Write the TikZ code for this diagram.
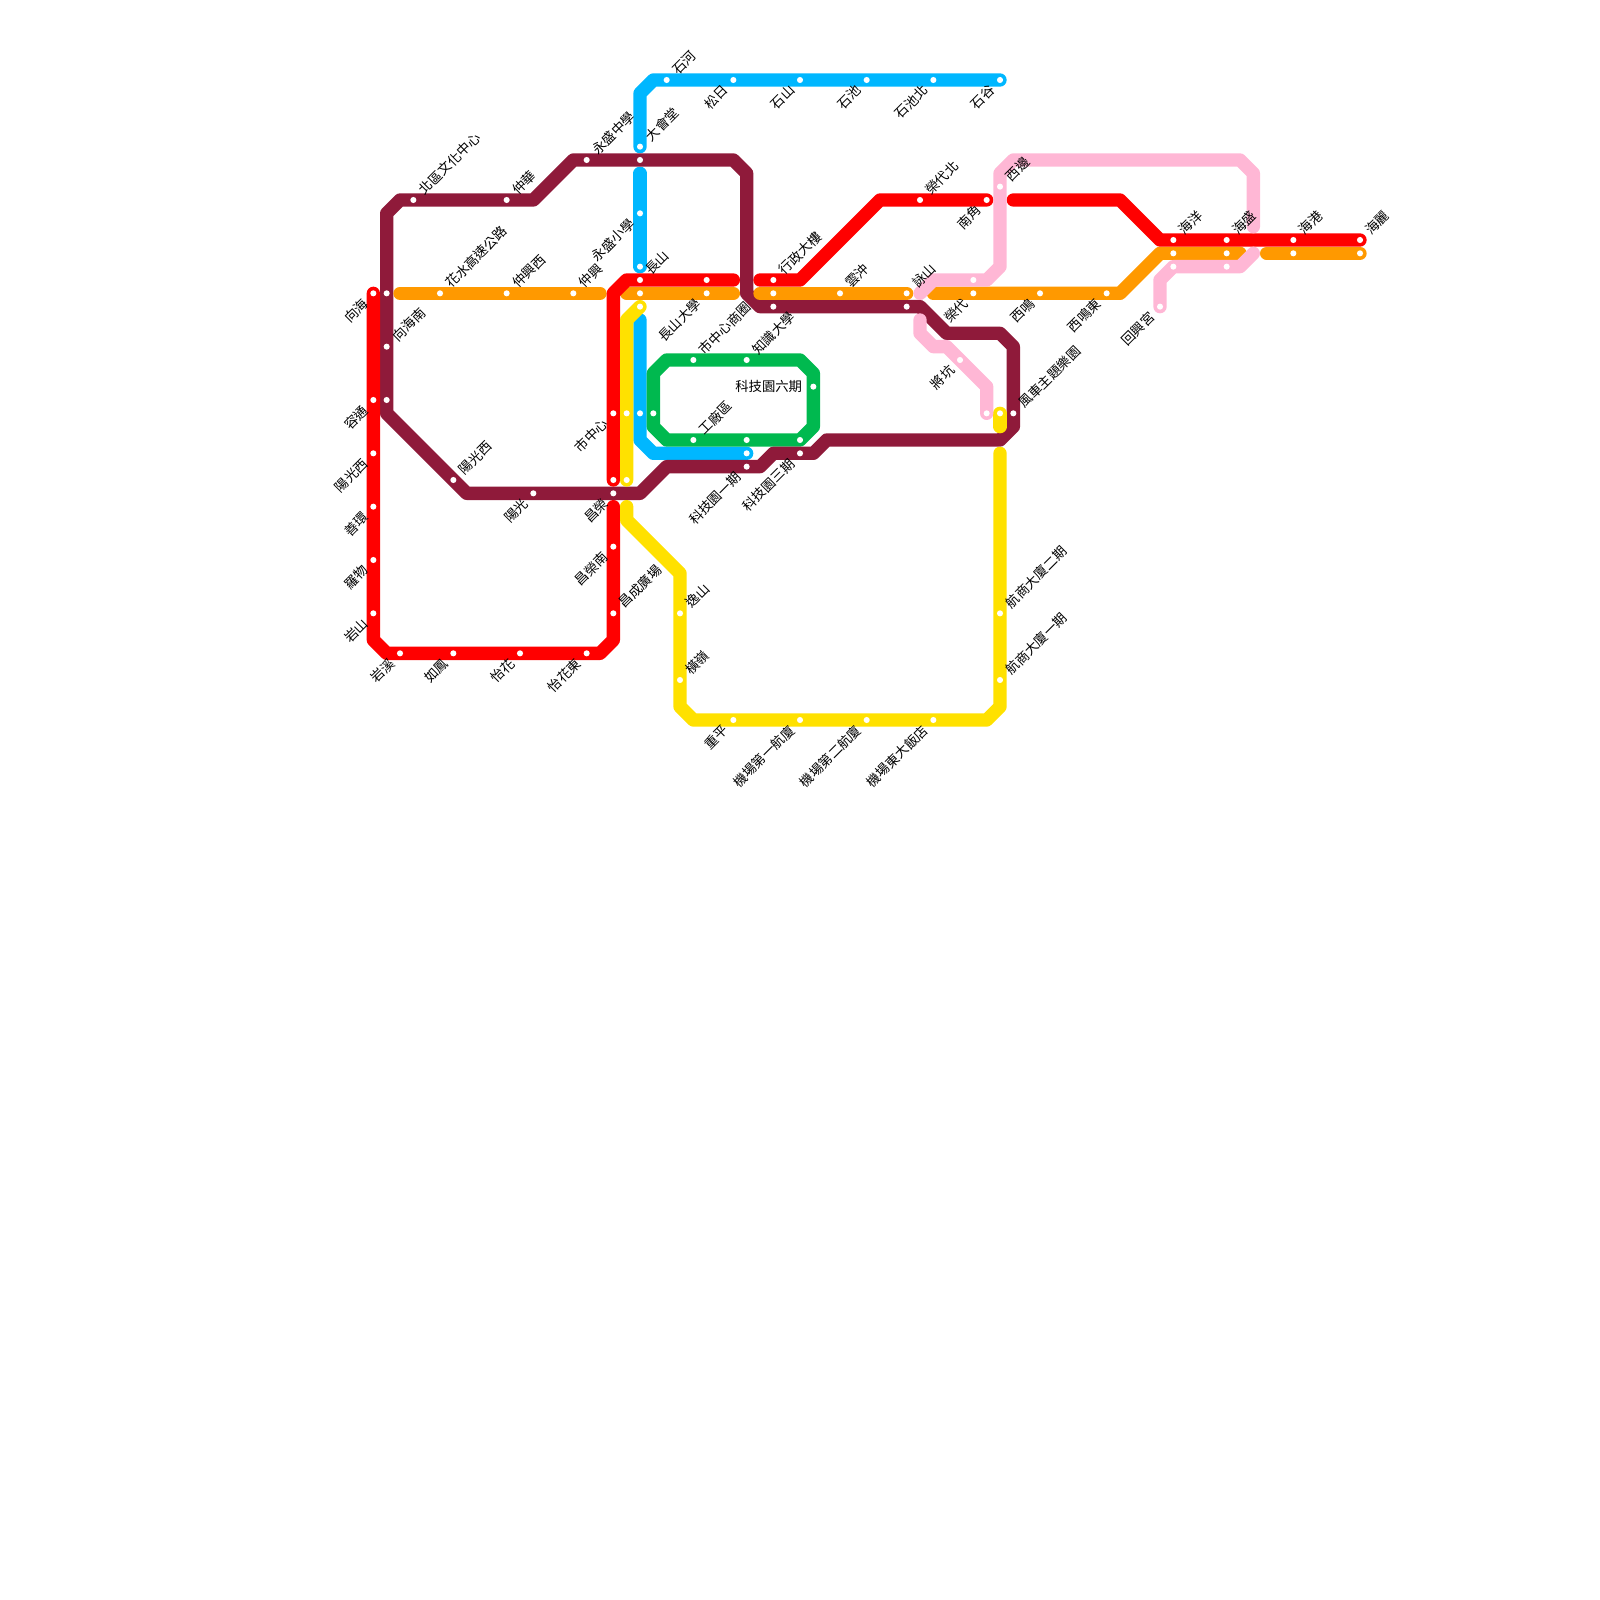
\documentclass[tikz,border=0pt]{standalone}
\usepackage{xcolor}
\usepackage{fontspec}
\usepackage{tikz}
\setmainfont{Noto Sans CJK TC}
\definecolor{skyline}{HTML}{00B7FF}
\definecolor{wineline}{HTML}{8F1A3A}
\definecolor{redline}{HTML}{FF0000}
\definecolor{orangeline}{HTML}{FF9900}
\definecolor{yellowline}{HTML}{FFE100}
\definecolor{pinkline}{HTML}{FFB7D5}
\definecolor{greenline}{HTML}{00B94F}

\begin{document}
\begin{tikzpicture}[x=0.2cm,y=-0.2cm,line cap=round,line join=round,
  track/.style={line width=0.2cm},
  stn/.style={circle,fill=white,inner sep=0pt,minimum size=2.6pt},
  labr/.style={rotate=45,anchor=west,inner sep=4.6pt,font=\fontsize{5.7}{6}\selectfont},
  labl/.style={rotate=45,anchor=east,inner sep=4.6pt,font=\fontsize{5.7}{6}\selectfont},
  labh/.style={anchor=east,inner sep=4.6pt,font=\fontsize{5.7}{6}\selectfont}]
\useasboundingbox (0,0) rectangle (120,120);
% sky line
\coordinate (Aone) at (48,11);
\coordinate (Atwo) at (48,7);
\coordinate (Athree) at (49,6);
\coordinate (Afour) at (75,6);
\coordinate (Bone) at (48,13);
\coordinate (Btwo) at (48,20);
\coordinate (Cone) at (48,24);
\coordinate (Ctwo) at (48,33);
\coordinate (Cthree) at (49,34);
\coordinate (Cfour) at (56,34);
\draw[track,skyline] (Aone) -- (Atwo) -- (Athree) -- (Afour);
\draw[track,skyline] (Bone) -- (Btwo);
\draw[track,skyline] (Cone) -- (Ctwo) -- (Cthree) -- (Cfour);
% green loop
\coordinate (Gone) at (50,27);
\coordinate (Gtwo) at (60,27);
\coordinate (Gthree) at (61,28);
\coordinate (Gfour) at (61,32);
\coordinate (Gfive) at (60,33);
\coordinate (Gsix) at (50,33);
\coordinate (Gseven) at (49,32);
\coordinate (Geight) at (49,28);
\draw[track,greenline] (Gone) -- (Gtwo) -- (Gthree) -- (Gfour) -- (Gfive) -- (Gsix) -- (Gseven) -- (Geight) -- cycle;
% wine loop
\coordinate (Wone) at (48,37);
\coordinate (Wtwo) at (35,37);
\coordinate (Wthree) at (29,31);
\coordinate (Wfour) at (29,16);
\coordinate (Wfive) at (30,15);
\coordinate (Wsix) at (40,15);
\coordinate (Wseven) at (43,12);
\coordinate (Weight) at (55,12);
\coordinate (Wnine) at (56,13);
\coordinate (Wten) at (56,22);
\coordinate (Welev) at (57,23);
\coordinate (Wtwelve) at (69,23);
\coordinate (Wthirt) at (71,25);
\coordinate (Wfourt) at (75,25);
\coordinate (Wfift) at (76,26);
\coordinate (Wsixt) at (76,32);
\coordinate (Wsevent) at (75,33);
\coordinate (Weighte) at (62,33);
\coordinate (Wninet) at (61,34);
\coordinate (Wtwenty) at (58,34);
\coordinate (Wtwone) at (57,35);
\coordinate (Wtwtwo) at (50,35);
\draw[track,wineline] (Wone) -- (Wtwo) -- (Wthree) -- (Wfour) -- (Wfive) -- (Wsix) -- (Wseven) -- (Weight) -- (Wnine) -- (Wten) -- (Welev) -- (Wtwelve) -- (Wthirt) -- (Wfourt) -- (Wfift) -- (Wsixt) -- (Wsevent) -- (Weighte) -- (Wninet) -- (Wtwenty) -- (Wtwone) -- (Wtwtwo) -- cycle;
% orange line
\coordinate (Oone) at (30,22);
\coordinate (Otwo) at (45,22);
\coordinate (Othree) at (47,22);
\coordinate (Ofour) at (55,22);
\coordinate (Ofive) at (57,22);
\coordinate (Osix) at (68,22);
\coordinate (Oseven) at (70,22);
\coordinate (Oeight) at (84,22);
\coordinate (Onine) at (87,19);
\coordinate (Oten) at (93,19);
\coordinate (Oelev) at (95,19);
\coordinate (Otwelve) at (102,19);
\draw[track,orangeline] (Oone) -- (Otwo);
\draw[track,orangeline] (Othree) -- (Ofour);
\draw[track,orangeline] (Ofive) -- (Osix);
\draw[track,orangeline] (Oseven) -- (Oeight) -- (Onine) -- (Oten);
\draw[track,orangeline] (Oelev) -- (Otwelve);
% red line
\coordinate (Rone) at (28,22);
\coordinate (Rtwo) at (28,48);
\coordinate (Rthree) at (29,49);
\coordinate (Rfour) at (45,49);
\coordinate (Rfive) at (46,48);
\coordinate (Rsix) at (46,38);
\coordinate (Sone) at (46,36);
\coordinate (Stwo) at (46,22);
\coordinate (Sthree) at (47,21);
\coordinate (Sfour) at (55,21);
\coordinate (Tone) at (57,21);
\coordinate (Ttwo) at (60,21);
\coordinate (Tthree) at (66,15);
\coordinate (Tfour) at (74,15);
\coordinate (Uone) at (76,15);
\coordinate (Utwo) at (84,15);
\coordinate (Uthree) at (87,18);
\coordinate (Ufour) at (102,18);
\draw[track,redline] (Rone) -- (Rtwo) -- (Rthree) -- (Rfour) -- (Rfive) -- (Rsix);
\draw[track,redline] (Sone) -- (Stwo) -- (Sthree) -- (Sfour);
\draw[track,redline] (Tone) -- (Ttwo) -- (Tthree) -- (Tfour);
\draw[track,redline] (Uone) -- (Utwo) -- (Uthree) -- (Ufour);
% yellow line
\coordinate (Yone) at (48,23);
\coordinate (Ytwo) at (47,24);
\coordinate (Ythree) at (47,36);
\coordinate (Zone) at (47,38);
\coordinate (Ztwo) at (47,39);
\coordinate (Zthree) at (51,43);
\coordinate (Zfour) at (51,53);
\coordinate (Zfive) at (52,54);
\coordinate (Zsix) at (74,54);
\coordinate (Zseven) at (75,53);
\coordinate (Zeight) at (75,34);
\coordinate (Vone) at (75,31);
\coordinate (Vtwo) at (75,32);
\draw[track,yellowline] (Yone) -- (Ytwo) -- (Ythree);
\draw[track,yellowline] (Zone) -- (Ztwo) -- (Zthree) -- (Zfour) -- (Zfive) -- (Zsix) -- (Zseven) -- (Zeight);
\draw[track,yellowline] (Vone) -- (Vtwo);
% pink line
\coordinate (Pone) at (69,22);
\coordinate (Ptwo) at (70,21);
\coordinate (Pthree) at (74,21);
\coordinate (Pfour) at (75,20);
\coordinate (Pfive) at (75,13);
\coordinate (Psix) at (76,12);
\coordinate (Pseven) at (93,12);
\coordinate (Peight) at (94,13);
\coordinate (Pnine) at (94,17);
\coordinate (Qone) at (94,19);
\coordinate (Qtwo) at (93,20);
\coordinate (Qthree) at (88,20);
\coordinate (Qfour) at (87,21);
\coordinate (Qfive) at (87,23);
\coordinate (Kone) at (69,24);
\coordinate (Ktwo) at (69,25);
\coordinate (Kthree) at (70,26);
\coordinate (Kfour) at (71,26);
\coordinate (Kfive) at (74,29);
\coordinate (Ksix) at (74,31);
\draw[track,pinkline] (Pone) -- (Ptwo) -- (Pthree) -- (Pfour) -- (Pfive) -- (Psix) -- (Pseven) -- (Peight) -- (Pnine);
\draw[track,pinkline] (Qone) -- (Qtwo) -- (Qthree) -- (Qfour) -- (Qfive);
\draw[track,pinkline] (Kone) -- (Ktwo) -- (Kthree) -- (Kfour) -- (Kfive) -- (Ksix);
% stations without a label
\node[stn] at (29,22) (XiangA) {};
\node[stn] at (29,30) (RongA) {};
\node[stn] at (48,12) (DaA) {};
\node[stn] at (48,22) (ChangA) {};
\node[stn] at (53,21) (DaxueA) {};
\node[stn] at (48,23) (ChangB) {};
\node[stn] at (58,22) (ZhiA) {};
\node[stn] at (58,23) (ZhiB) {};
\node[stn] at (68,23) (YongA) {};
\node[stn] at (73,21) (RongdaiA) {};
\node[stn] at (47,31) (ShiA) {};
\node[stn] at (48,31) (ShiB) {};
\node[stn] at (49,31) (ShiC) {};
\node[stn] at (56,33) (KejiA) {};
\node[stn] at (56,34) (KejiB) {};
\node[stn] at (60,33) (KejiC) {};
\node[stn] at (47,36) (ChangyC) {};
\node[stn] at (88,19) (HaiyA) {};
\node[stn] at (92,19) (HaisA) {};
\node[stn] at (88,20) (HaiyB) {};
\node[stn] at (92,20) (HaisB) {};
\node[stn] at (97,19) (HaigA) {};
\node[stn] at (102,19) (HailA) {};
\node[stn] at (74,31) (FengA) {};
\node[stn] at (75,31) (FengB) {};
% stations, labels on the upper right
\node[stn] at (50,6) (Shihe) {};
\node[labr] at (Shihe) (ShiheL) {石河};
\node[stn] at (48,11) (Dahui) {};
\node[labr] at (Dahui) (DahuiL) {大會堂};
\node[stn] at (44,12) (Zhongxue) {};
\node[labr] at (Zhongxue) (ZhongxueL) {永盛中學};
\node[stn] at (31,15) (Beiqu) {};
\node[labr] at (Beiqu) (BeiquL) {北區文化中心};
\node[stn] at (38,15) (Zhonghua) {};
\node[labr] at (Zhonghua) (ZhonghuaL) {仲華};
\node[stn] at (33,22) (Huashui) {};
\node[labr] at (Huashui) (HuashuiL) {花水高速公路};
\node[stn] at (38,22) (Zhongxi) {};
\node[labr] at (Zhongxi) (ZhongxiL) {仲興西};
\node[stn] at (43,22) (Zhongxing) {};
\node[labr] at (Zhongxing) (ZhongxingL) {仲興};
\node[stn] at (29,26) (Xiangnan) {};
\node[labr] at (Xiangnan) (XiangnanL) {向海南};
\node[stn] at (48,21) (Changshan) {};
\node[labr] at (Changshan) (ChangshanL) {長山};
\node[stn] at (52,27) (Shangquan) {};
\node[labr] at (Shangquan) (ShangquanL) {市中心商圈};
\node[stn] at (56,27) (Zhishi) {};
\node[labr] at (Zhishi) (ZhishiL) {知識大學};
\node[stn] at (58,21) (Xingzheng) {};
\node[labr] at (Xingzheng) (XingzhengL) {行政大樓};
\node[stn] at (63,22) (Yunchong) {};
\node[labr] at (Yunchong) (YunchongL) {雲沖};
\node[stn] at (68,22) (Yongshan) {};
\node[labr] at (Yongshan) (YongshanL) {詠山};
\node[stn] at (69,15) (Rongbei) {};
\node[labr] at (Rongbei) (RongbeiL) {榮代北};
\node[stn] at (75,14) (Xibian) {};
\node[labr] at (Xibian) (XibianL) {西邊};
\node[stn] at (88,18) (Haiyang) {};
\node[labr] at (Haiyang) (HaiyangL) {海洋};
\node[stn] at (92,18) (Haisheng) {};
\node[labr] at (Haisheng) (HaishengL) {海盛};
\node[stn] at (97,18) (Haigang) {};
\node[labr] at (Haigang) (HaigangL) {海港};
\node[stn] at (102,18) (Haili) {};
\node[labr] at (Haili) (HailiL) {海麗};
\node[stn] at (76,31) (Fengche) {};
\node[labr] at (Fengche) (FengcheL) {風車主題樂園};
\node[stn] at (52,33) (Gongchang) {};
\node[labr] at (Gongchang) (GongchangL) {工廠區};
\node[stn] at (34,36) (Yangxi) {};
\node[labr] at (Yangxi) (YangxiL) {陽光西};
\node[stn] at (46,46) (Guangchang) {};
\node[labr] at (Guangchang) (GuangchangL) {昌成廣場};
\node[stn] at (51,46) (Yishan) {};
\node[labr] at (Yishan) (YishanL) {逸山};
\node[stn] at (51,51) (Hengling) {};
\node[labr] at (Hengling) (HenglingL) {橫嶺};
\node[stn] at (75,46) (Hangtwo) {};
\node[labr] at (Hangtwo) (HangtwoL) {航商大廈二期};
\node[stn] at (75,51) (Hangone) {};
\node[labr] at (Hangone) (HangoneL) {航商大廈一期};
% stations, labels on the lower left
\node[stn] at (55,6) (Songri) {};
\node[labl] at (Songri) (SongriL) {松日};
\node[stn] at (60,6) (Shishan) {};
\node[labl] at (Shishan) (ShishanL) {石山};
\node[stn] at (65,6) (Shichi) {};
\node[labl] at (Shichi) (ShichiL) {石池};
\node[stn] at (70,6) (Shibei) {};
\node[labl] at (Shibei) (ShibeiL) {石池北};
\node[stn] at (75,6) (Shigu) {};
\node[labl] at (Shigu) (ShiguL) {石谷};
\node[stn] at (48,16) (Xiaoxue) {};
\node[labl] at (Xiaoxue) (XiaoxueL) {永盛小學};
\node[stn] at (48,20) (ChangC) {};
\node[stn] at (28,22) (Xianghai) {};
\node[labl] at (Xianghai) (XianghaiL) {向海};
\node[stn] at (53,22) (Changda) {};
\node[labl] at (Changda) (ChangdaL) {長山大學};
\node[stn] at (74,15) (Nanjiao) {};
\node[labl] at (Nanjiao) (NanjiaoL) {南角};
\node[stn] at (73,22) (Rongdai) {};
\node[labl] at (Rongdai) (RongdaiL) {榮代};
\node[stn] at (78,22) (Ximing) {};
\node[labl] at (Ximing) (XimingL) {西鳴};
\node[stn] at (83,22) (Xidong) {};
\node[labl] at (Xidong) (XidongL) {西鳴東};
\node[stn] at (87,23) (Huixing) {};
\node[labl] at (Huixing) (HuixingL) {回興宮};
\node[stn] at (72,27) (Jiangkeng) {};
\node[labl] at (Jiangkeng) (JiangkengL) {將坑};
\node[stn] at (28,30) (Rongtong) {};
\node[labl] at (Rongtong) (RongtongL) {容通};
\node[stn] at (28,34) (Yangguangxi) {};
\node[labl] at (Yangguangxi) (YangguangxiL) {陽光西};
\node[stn] at (28,38) (Shanhuan) {};
\node[labl] at (Shanhuan) (ShanhuanL) {善環};
\node[stn] at (28,42) (Luowu) {};
\node[labl] at (Luowu) (LuowuL) {羅物};
\node[stn] at (28,46) (Yanshan) {};
\node[labl] at (Yanshan) (YanshanL) {岩山};
\node[stn] at (30,49) (Yanxi) {};
\node[labl] at (Yanxi) (YanxiL) {岩溪};
\node[stn] at (34,49) (Rufeng) {};
\node[labl] at (Rufeng) (RufengL) {如鳳};
\node[stn] at (39,49) (Yihua) {};
\node[labl] at (Yihua) (YihuaL) {怡花};
\node[stn] at (44,49) (Yidong) {};
\node[labl] at (Yidong) (YidongL) {怡花東};
\node[stn] at (46,31) (Shizhong) {};
\node[labl] at (Shizhong) (ShizhongL) {市中心};
\node[stn] at (46,36) (ChangD) {};
\node[stn] at (40,37) (Yangguang) {};
\node[labl] at (Yangguang) (YangguangL) {陽光};
\node[stn] at (46,37) (Changrong) {};
\node[labl] at (Changrong) (ChangrongL) {昌榮};
\node[stn] at (46,41) (Rongnan) {};
\node[labl] at (Rongnan) (RongnanL) {昌榮南};
\node[stn] at (56,35) (Kejione) {};
\node[labl] at (Kejione) (KejioneL) {科技園一期};
\node[stn] at (60,34) (Kejithree) {};
\node[labl] at (Kejithree) (KejithreeL) {科技園三期};
\node[stn] at (55,54) (Chongping) {};
\node[labl] at (Chongping) (ChongpingL) {重平};
\node[stn] at (60,54) (Jione) {};
\node[labl] at (Jione) (JioneL) {機場第一航廈};
\node[stn] at (65,54) (Jitwo) {};
\node[labl] at (Jitwo) (JitwoL) {機場第二航廈};
\node[stn] at (70,54) (Jidong) {};
\node[labl] at (Jidong) (JidongL) {機場東大飯店};
% the one flat label
\node[stn] at (61,29) (Kejisix) {};
\node[labh] at (Kejisix) (KejisixL) {科技園六期};
\end{tikzpicture}
\end{document}
